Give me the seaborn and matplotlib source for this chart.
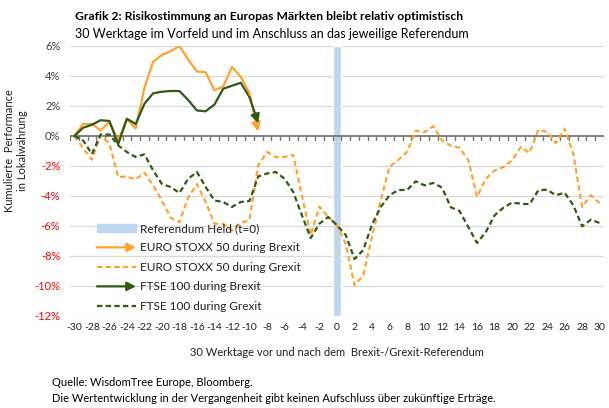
import numpy as np
import pandas as pd
import seaborn as sns
import matplotlib.pyplot as plt
from matplotlib.patches import FancyArrowPatch, Patch
from matplotlib.lines import Line2D
from matplotlib.legend_handler import HandlerBase

# data, cumulative performance in %
days = list(range(-30, 31))
brexit_days = list(range(-30, -8))
referendum_day = 0

stoxx_brexit = [0, 0.8, 0.8, 0.38, 0.95, -0.3, 1.15, 0.5, 3.2, 4.95, 5.4,
                5.65, 6.0, 5.1, 4.3, 4.25, 3.05, 3.3, 4.6, 3.95, 2.85, 0.3]
ftse_brexit = [0, 0.55, 0.75, 1.05, 1.0, -0.55, 1.15, 0.8, 2.15, 2.85, 2.95,
               3.0, 3.0, 2.4, 1.7, 1.65, 2.1, 3.15, 3.35, 3.55, 2.6, 0.85]
stoxx_grexit = [0, -0.8, -1.58, 0.05, -0.5, -2.73, -2.7, -2.9, -2.45, -3.3,
                -4.3, -5.45, -5.75, -4.1, -3.2, -4.4, -5.85, -5.85, -6.3, -5.8,
                -5.6, -1.95, -1.07, -1.4, -1.4, -1.25, -4.0, -6.6, -4.7, -5.4,
                -5.95, -7.2, -9.95, -9.3, -6.7, -4.3, -2.05, -1.6, -1.05, 0.35,
                0.25, 0.65, -0.3, -0.65, -0.78, -1.6, -4.05, -2.85, -2.3, -2.07,
                -1.62, -0.73, -1.13, 0.42, 0.27, -0.47, 0.49, -1.2, -4.73, -3.95,
                -4.47]
ftse_grexit = [0, -0.3, -1.2, 0.1, 0.1, -0.62, -1.07, -1.4, -1.22, -2.3,
               -3.2, -3.4, -3.8, -2.85, -2.4, -3.4, -4.3, -4.4, -4.73, -4.4,
               -4.33, -2.7, -2.5, -2.4, -2.84, -3.73, -5.3, -6.8, -5.84, -5.4,
               -5.95, -6.6, -8.2, -7.6, -5.9, -4.73, -3.95, -3.6, -3.6, -3.02,
               -3.29, -3.13, -3.44, -4.75, -5.0, -6.07, -7.13, -6.4, -5.29, -4.78,
               -4.44, -4.51, -4.55, -3.62, -3.58, -3.95, -3.78, -4.62, -6.02, -5.58,
               -5.8]
y_ticks = list(range(-12, 7, 2))

ORANGE = '#FFA22E'
GREEN = '#2E5A14'
BAND = '#BDD7EE'
AXIS = '#767676'
DASH = (0, (2.4, 1.5))
FONT = ['Lato', 'DejaVu Sans']

sns.set_style('white')
plt.rcParams['font.family'] = FONT

fig = plt.figure(figsize=(6.09, 4.08), dpi=100)
ax = fig.add_axes([70 / 609, 1 - 316 / 408, 534 / 609, 270 / 408])

ymin, ymax = y_ticks[0], y_ticks[-1]
ax.bar([referendum_day], [ymax - ymin], bottom=ymin, width=1.0,
       color=BAND, zorder=1)

for yv in y_ticks:
    if yv != 0:
        ax.axhline(yv, color='#D9D9D9', lw=0.9, zorder=0)

sns.lineplot(x=days, y=stoxx_grexit, ax=ax, color=ORANGE, lw=1.6,
             linestyle=DASH, zorder=3)
sns.lineplot(x=days, y=ftse_grexit, ax=ax, color=GREEN, lw=1.6,
             linestyle=DASH, zorder=3)
sns.lineplot(x=brexit_days[:-1], y=stoxx_brexit[:-1], ax=ax, color=ORANGE,
             lw=1.6, zorder=4)
sns.lineplot(x=brexit_days[:-1], y=ftse_brexit[:-1], ax=ax, color=GREEN,
             lw=1.6, zorder=4)
# last segment with arrow head
for vals, col in [(stoxx_brexit, ORANGE), (ftse_brexit, GREEN)]:
    ax.annotate('', xy=(brexit_days[-1], vals[-1]),
                xytext=(brexit_days[-2], vals[-2]),
                arrowprops=dict(arrowstyle='-|>', color=col, lw=1.6,
                                mutation_scale=13, shrinkA=0, shrinkB=0),
                zorder=5)

ax.set_xlim(days[0] - 0.5, days[-1] + 0.5)
ax.set_ylim(ymin, ymax)

# category axis line at 0 with tick marks between the days
tick_len = 0.27
tick_pos = [d - 0.5 for d in days] + [days[-1] + 0.5]
ax.axhline(0, color=AXIS, lw=1.3, zorder=2.5)
for tp in tick_pos:
    ax.plot([tp, tp], [-tick_len, 0], color=AXIS, lw=1.0, zorder=2.5)

for s in ax.spines.values():
    s.set_visible(False)

ax.set_yticks(y_ticks)
ax.set_yticklabels([f'{v}%' for v in y_ticks])
for lab, v in zip(ax.get_yticklabels(), y_ticks):
    lab.set_color('#FF0000' if v < 0 else '#404040')
ax.set_xticks(days[::2])
ax.set_xticklabels([str(d) for d in days[::2]])
ax.tick_params(axis='y', length=0, pad=7, labelsize=8)
ax.tick_params(axis='x', length=0, pad=5, labelsize=7.5,
               labelcolor='#202020')


class ArrowHandler(HandlerBase):
    def create_artists(self, legend, orig_handle, xdescent, ydescent,
                       width, height, fontsize, trans):
        y = (height - ydescent) / 2
        arr = FancyArrowPatch((-xdescent, y), (width - xdescent, y),
                              arrowstyle='-|>', mutation_scale=13,
                              color=orig_handle.get_color(), lw=1.6,
                              shrinkA=0, shrinkB=0)
        arr.set_transform(trans)
        return [arr]


h_band = Patch(color=BAND)
h_sb = Line2D([], [], color=ORANGE, lw=1.6)
h_sg = Line2D([], [], color=ORANGE, lw=1.6, linestyle=DASH)
h_fb = Line2D([], [], color=GREEN, lw=1.6)
h_fg = Line2D([], [], color=GREEN, lw=1.6, linestyle=DASH)
leg = fig.legend([h_band, h_sb, h_sg, h_fb, h_fg],
                 ['Referendum Held (t=0)', 'EURO STOXX 50 during Brexit',
                  'EURO STOXX 50 during Grexit', 'FTSE 100 during Brexit',
                  'FTSE 100 during Grexit'],
                 loc='upper left', bbox_to_anchor=(97 / 609, 1 - 223 / 408),
                 frameon=False, fontsize=8.5, handlelength=3.3,
                 handletextpad=0.3, labelspacing=0.72, borderpad=0,
                 borderaxespad=0,
                 handler_map={h_sb: ArrowHandler(), h_fb: ArrowHandler()})
for t in leg.get_texts():
    t.set_color('#202020')

fig.text(75 / 609, 1 - 17 / 408,
         'Grafik 2: Risikostimmung an Europas Märkten bleibt relativ optimistisch',
         fontsize=8.7, weight='bold', va='center', color='#000000')
fig.text(75 / 609, 1 - 34 / 408,
         '30 Werktage im Vorfeld und im Anschluss an das jeweilige Referendum',
         fontsize=9.0, va='center', color='#000000')
fig.text(16 / 609, 1 - 151 / 408, 'Kumulierte  Performance\nin Lokalwährung',
         rotation=90, ha='center', va='center', multialignment='center',
         fontsize=8, color='#202020')
fig.text(337 / 609, 1 - 352 / 408,
         '30 Werktage vor und nach dem  Brexit-/Grexit-Referendum',
         ha='center', va='center', fontsize=8, color='#202020')
fig.text(52 / 609, 1 - 383 / 408, 'Quelle: WisdomTree Europe, Bloomberg.',
         va='center', fontsize=8, color='#000000')
fig.text(52 / 609, 1 - 399 / 408,
         'Die Wertentwicklung in der Vergangenheit gibt keinen Aufschluss über zukünftige Erträge.',
         va='center', fontsize=8, color='#000000')

fig.savefig('out.png', dpi=100)
